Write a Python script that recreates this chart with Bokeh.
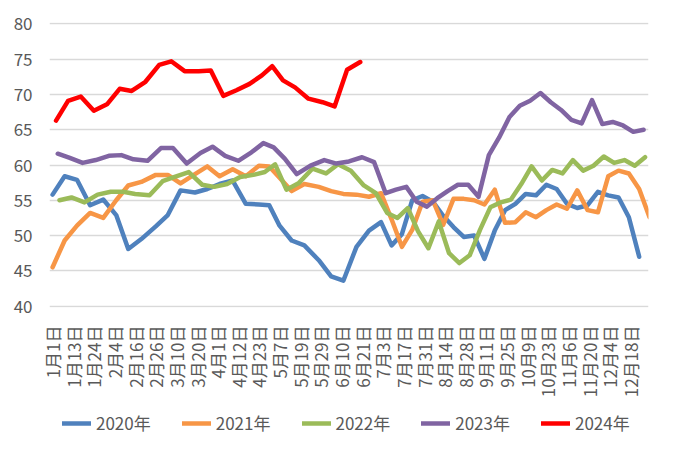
import math
import numpy as np
from bokeh.plotting import figure
from bokeh.layouts import column
from bokeh.models import Range1d, FixedTicker, Legend, LegendItem
from bokeh.embed import file_html
from bokeh.resources import INLINE

# ---- data ----
tick_labels = ["1月1日", "1月13日", "1月24日", "2月4日", "2月16日", "2月26日", "3月10日",
               "3月20日", "4月1日", "4月12日", "4月23日", "5月7日", "5月19日", "5月29日",
               "6月10日", "6月21日", "7月3日", "7月17日", "7月31日", "8月14日", "8月28日",
               "9月11日", "9月25日", "10月9日", "10月23日", "11月6日", "11月20日",
               "12月4日", "12月18日"]

series_names = ["2020年", "2021年", "2022年", "2023年", "2024年"]
series_start = ["1月1日", "1月1日", "1月5日", "1月4日", "1月3日"]   # weekly readings

v2020 = [55.8, 58.4, 57.9, 54.3, 55.1, 52.9, 48.1, 49.5, 51.3, 52.9,
         56.4, 56.1, 56.6, 57.3, 57.8, 54.5, 54.4, 54.3, 51.4, 49.3,
         48.6, 46.5, 44.2, 43.6, 48.4, 50.7, 51.9, 48.6, 50.2, 55.0,
         55.6, 54.8, 52.8, 51.2, 49.8, 50.0, 46.7, 50.7, 53.6, 54.5,
         55.9, 55.7, 57.2, 56.6, 54.5, 53.9, 54.3, 56.2, 55.7, 55.4,
         52.6, 47.0]
v2021 = [45.5, 49.3, 51.4, 53.2, 52.5, 55.0, 57.1, 57.6, 58.6, 58.6,
         57.4, 58.7, 59.8, 58.4, 59.4, 58.4, 59.9, 59.8, 58.2, 56.3,
         57.3, 56.9, 56.3, 55.9, 55.8, 55.5, 56.0, 52.3, 48.4, 50.8,
         54.8, 55.0, 51.5, 55.2, 55.2, 55.0, 54.4, 56.5, 51.8, 51.9,
         53.3, 52.6, 53.6, 54.4, 53.8, 56.4, 53.6, 53.3, 58.4, 59.2,
         58.8, 56.6, 52.6]
v2022 = [55.0, 55.4, 54.7, 55.8, 56.2, 56.2, 55.9, 55.7, 57.7, 58.3,
         59.0, 57.2, 56.9, 57.3, 58.3, 58.6, 59.0, 60.1, 56.5, 57.4,
         59.5, 58.8, 60.1, 59.2, 57.1, 56.0, 53.2, 52.5, 53.9, 50.6,
         48.2, 52.0, 47.5, 46.1, 47.2, 50.8, 54.0, 54.7, 55.1, 57.3,
         59.8, 57.8, 59.3, 58.8, 60.7, 59.2, 59.9, 61.2, 60.3, 60.7,
         59.9, 61.1]
v2023 = [61.6, 61.0, 60.3, 60.7, 61.3, 61.4, 60.8, 60.6, 62.4, 62.4,
         60.2, 61.7, 62.6, 61.3, 60.6, 61.8, 63.1, 62.5, 60.9, 58.7,
         59.9, 60.7, 60.2, 60.5, 61.1, 60.4, 56.0, 56.5, 56.9, 54.8,
         54.1, 55.3, 56.3, 57.2, 57.2, 55.5, 61.4, 63.9, 66.8, 68.4,
         69.1, 70.2, 68.9, 67.8, 66.4, 65.9, 69.2, 65.8, 66.1, 65.6,
         64.7, 65.0]
v2024 = [66.3, 69.1, 69.7, 67.7, 68.6, 70.8, 70.5, 71.8, 74.2, 74.7,
         73.3, 73.3, 73.4, 69.8, 70.6, 71.5, 72.7, 74.0, 72.0, 71.0,
         69.4, 68.9, 68.3, 73.5, 74.6]

series_values = [v2020, v2021, v2022, v2023, v2024]
colors = ["#4F81BD", "#F79646", "#9BBB59", "#8064A2", "#FF0000"]
y_ticks = [40, 45, 50, 55, 60, 65, 70, 75, 80]

# ---- category positions: each labelled date is one slot on the axis ----
month_start = [0, 31, 59, 90, 120, 151, 181, 212, 243, 273, 304, 334]


def doy(s):
    m, d = s.replace("日", "").split("月")
    return month_start[int(m) - 1] + int(d) - 1


label_days = [doy(s) for s in tick_labels]
label_days_ext = label_days + [label_days[-1] + 14]
label_pos_ext = list(range(len(tick_labels))) + [len(tick_labels)]

FONT = "Noto Sans CJK SC"
GREY = "#595959"
LW = 4.5

x_range = Range1d(-0.15, 28.88)

# ---------------- main chart ----------------
p = figure(width=657, height=400,
           x_range=x_range, y_range=Range1d(39.8, 80.2),
           output_backend="svg", toolbar_location=None,
           min_border_left=49, min_border_right=9, min_border_top=22,
           min_border_bottom=93)
p.outline_line_color = None
p.background_fill_color = "white"
p.border_fill_color = "white"

series_xy = []
for name, start, vals, col in zip(series_names, series_start, series_values, colors):
    days = doy(start) + 7 * np.arange(len(vals))
    xs = [float(v) for v in np.interp(days, label_days_ext, label_pos_ext)]
    series_xy.append((xs, vals))
    p.line(xs, vals, line_color=col, line_width=LW,
           line_join="round", line_cap="round")

p.yaxis.ticker = FixedTicker(ticks=y_ticks)
p.yaxis.axis_line_color = None
p.yaxis.major_tick_line_color = None
p.yaxis.minor_tick_line_color = None
p.yaxis.major_tick_out = 0
p.yaxis.major_tick_in = 0
p.yaxis.major_label_standoff = 17
p.yaxis.major_label_text_font = FONT
p.yaxis.major_label_text_font_size = "17px"
p.yaxis.major_label_text_color = GREY

p.xaxis.ticker = FixedTicker(ticks=list(range(len(tick_labels))))
p.xaxis.major_label_overrides = {i: lab for i, lab in enumerate(tick_labels)}
p.xaxis.major_label_orientation = math.pi / 2
p.xaxis.axis_line_color = None
p.xaxis.major_tick_line_color = None
p.xaxis.minor_tick_line_color = None
p.xaxis.major_tick_out = 0
p.xaxis.major_tick_in = 0
p.xaxis.major_label_standoff = 18
p.xaxis.major_label_text_font = FONT
p.xaxis.major_label_text_font_size = "17px"
p.xaxis.major_label_text_color = GREY

p.xgrid.grid_line_color = None
p.ygrid.grid_line_color = "#D9D9D9"
p.ygrid.grid_line_width = 1.6

# ---------------- legend strip (same series, drawn out of view) ----------------
pl = figure(width=657, height=36, x_range=x_range, y_range=Range1d(0, 1),
            output_backend="svg", toolbar_location=None,
            x_axis_type=None, y_axis_type=None,
            min_border_left=49, min_border_right=9, min_border_top=0, min_border_bottom=0)
pl.outline_line_color = None
pl.xgrid.grid_line_color = None
pl.ygrid.grid_line_color = None
pl.border_fill_color = "white"
pl.background_fill_color = "white"

items = []
for name, (xs, vals), col in zip(series_names, series_xy, colors):
    r = pl.line(xs, vals, line_color=col, line_width=LW, line_cap="round")
    items.append(LegendItem(label=name, renderers=[r]))

legend = Legend(items=items, orientation="horizontal", location=(13, 1),
                glyph_width=29, glyph_height=20, label_standoff=5, spacing=31,
                label_text_font=FONT, label_text_font_size="17px",
                label_text_color=GREY, border_line_color=None,
                background_fill_alpha=0, padding=0, margin=0)
pl.add_layout(legend)

layout = column(p, pl, spacing=0)
open("out.html", "w").write(file_html(layout, INLINE))
